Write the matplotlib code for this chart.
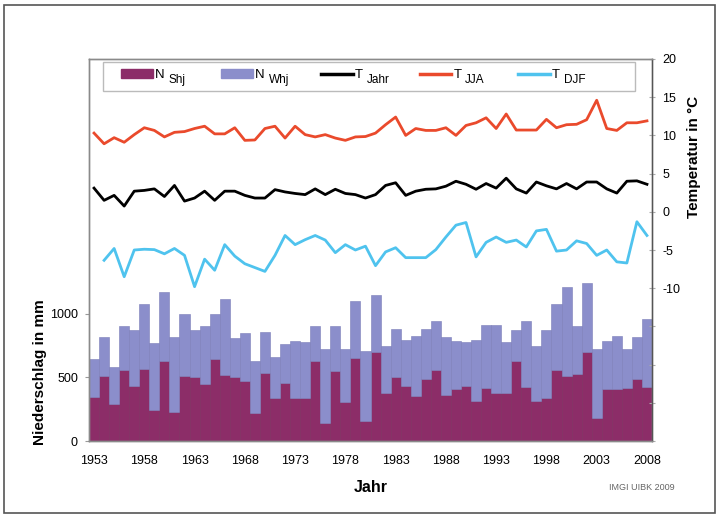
import matplotlib.pyplot as plt
from matplotlib.patches import Patch, Rectangle
from matplotlib.lines import Line2D

plt.rcParams['font.family'] = ['Liberation Sans', 'DejaVu Sans']

years = list(range(1953, 2009))

# Niederschlag Sommerhalbjahr / Winterhalbjahr (mm)
n_shj = [344, 507, 289, 554, 433, 564, 244, 625, 231, 512,
         504, 449, 643, 520, 501, 472, 223, 533, 336, 459,
         336, 336, 630, 139, 546, 310, 651, 157, 698, 381,
         501, 433, 357, 488, 559, 362, 407, 433, 318, 420,
         375, 375, 625, 428, 315, 336, 559, 512, 525, 696,
         178, 409, 409, 420, 488, 428]
n_whj = [299, 307, 291, 351, 441, 515, 525, 543, 585, 488,
         365, 456, 354, 598, 307, 376, 407, 320, 323, 305,
         451, 441, 270, 583, 354, 412, 446, 546, 446, 369,
         381, 357, 465, 391, 386, 452, 375, 344, 477, 488,
         533, 399, 249, 512, 428, 538, 520, 698, 375, 546,
         546, 378, 418, 304, 326, 533]

# Temperatur (°C)
t_jahr = [3.1, 1.5, 2.15, 0.75, 2.7, 2.8, 3.0, 2.0, 3.45, 1.4,
          1.8, 2.7, 1.5, 2.7, 2.7, 2.15, 1.8, 1.8, 2.9, 2.6,
          2.4, 2.25, 3.0, 2.25, 2.95, 2.4, 2.25, 1.8, 2.25, 3.45,
          3.8, 2.15, 2.7, 2.95, 3.0, 3.35, 4.0, 3.6, 2.95, 3.7,
          3.1, 4.4, 3.0, 2.45, 3.9, 3.4, 3.0, 3.7, 3.0, 3.9,
          3.9, 3.0, 2.45, 4.0, 4.05, 3.6]
t_jja = [10.3, 8.9, 9.7, 9.1, 10.1, 11.0, 10.65, 9.8, 10.4, 10.5,
         10.9, 11.2, 10.2, 10.2, 11.0, 9.35, 9.4, 10.9, 11.2, 9.65,
         11.2, 10.1, 9.8, 10.1, 9.65, 9.35, 9.8, 9.85, 10.3, 11.4,
         12.4, 10.0, 10.9, 10.65, 10.65, 11.0, 10.0, 11.3, 11.65, 12.3,
         10.9, 12.8, 10.7, 10.7, 10.7, 12.1, 11.0, 11.4, 11.45, 12.05,
         14.6, 10.9, 10.65, 11.65, 11.65, 11.9]
# DJF first value (1953) not available
t_djf = [None, -6.35, -4.8, -8.5, -5.0, -4.9, -4.95, -5.5, -4.8, -5.7,
         -9.8, -6.2, -7.65, -4.3, -5.8, -6.8, -7.3, -7.8, -5.7, -3.1,
         -4.3, -3.65, -3.1, -3.7, -5.35, -4.3, -5.0, -4.5, -7.05, -5.25,
         -4.7, -6.0, -6.0, -6.0, -4.95, -3.3, -1.75, -1.4, -5.9, -4.0,
         -3.3, -4.0, -3.7, -4.6, -2.5, -2.3, -5.15, -5.0, -3.8, -4.15,
         -5.7, -5.0, -6.55, -6.7, -1.3, -3.1]

xtick_years = list(range(1953, 2009, 5))

leg_main = ['N', 'N', 'T', 'T', 'T']
leg_sub = ['Shj', 'Whj', 'Jahr', 'JJA', 'DJF']

c_shj = '#8c2d68'
c_whj = '#8b8ecb'
c_jja = '#ea4a2c'
c_djf = '#4fc3ee'

fig = plt.figure(figsize=(7.19, 5.16), dpi=100)
ax1 = fig.add_axes([0.1238, 0.1453, 0.7830, 0.7404])
ax2 = ax1.twinx()

ax1.bar(years, n_shj, width=1.0, color=c_shj, edgecolor='#7a2a5c', linewidth=0.4)
ax1.bar(years, n_whj, width=1.0, bottom=n_shj, color=c_whj, edgecolor='#7b7db8', linewidth=0.4)
ax1.set_ylim(0, 3000)
ax1.set_yticks([0, 500, 1000])
ax1.set_xlim(1952.5, 2008.5)
ax1.set_xticks(xtick_years)
ax1.tick_params(axis='y', length=3, color='#999999', labelsize=9, pad=5)
ax1.tick_params(axis='x', length=0, labelsize=9, pad=10)

djf_years = [y for y, v in zip(years, t_djf) if v is not None]
djf_vals = [v for v in t_djf if v is not None]
ax2.plot(years, t_jja, color=c_jja, lw=2.0)
ax2.plot(years, t_jahr, color='black', lw=2.0)
ax2.plot(djf_years, djf_vals, color=c_djf, lw=2.0)
ax2.set_ylim(-30, 20)
ax2.set_yticks(range(-30, 21, 5))
ax2.set_yticklabels(['' if t < -10 else str(t) for t in range(-30, 21, 5)])
ax2.tick_params(axis='y', direction='inout', length=5, color='#aaaaaa', labelsize=9, pad=5)

for ax in (ax1, ax2):
    for s in ax.spines.values():
        s.set_color('#8a8a8a')
        s.set_linewidth(1.0)
ax2.spines['right'].set_color('#555555')

# legend box
ax2.add_patch(Rectangle((0.025, 0.917), 0.945, 0.075, transform=ax2.transAxes,
                        facecolor='white', edgecolor='#bbbbbb', linewidth=1.0, zorder=4))

handles = [Patch(color=c_shj), Patch(color=c_whj),
           Line2D([], [], color='black', lw=2.5),
           Line2D([], [], color=c_jja, lw=2.5),
           Line2D([], [], color=c_djf, lw=2.5)]
leg = ax2.legend(handles, leg_main, ncol=5, loc='center left',
                 bbox_to_anchor=(0.048, 0.958), borderaxespad=0, frameon=False,
                 fontsize=9.5, handlelength=2.4, handleheight=0.6,
                 handletextpad=0.15, columnspacing=4.3)
leg.set_zorder(5)

# subscripts in the legend, nearly as large as the main letter
fig.canvas.draw()
renderer = fig.canvas.get_renderer()
for txt, sub in zip(leg.get_texts(), leg_sub):
    bb = txt.get_window_extent(renderer)
    fig.text((bb.x1 + 4) / fig.bbox.width, (bb.y0 - 2) / fig.bbox.height, sub,
             ha='left', va='baseline', fontsize=8.5, zorder=6)

fig.text(0.056, 0.279, 'Niederschlag in mm', rotation=90, ha='center', va='center',
         fontsize=11, fontweight='bold')
fig.text(0.965, 0.695, 'Temperatur in °C', rotation=90, ha='center', va='center',
         fontsize=11, fontweight='bold')
fig.text(0.515, 0.056, 'Jahr', ha='center', va='center', fontsize=11.5, fontweight='bold')
fig.text(0.893, 0.056, 'IMGI UIBK 2009', ha='center', va='center', fontsize=6.5, color='#666666')

fig.patches.append(Rectangle((0.005, 0.006), 0.99, 0.984, transform=fig.transFigure,
                             fill=False, edgecolor='#555555', linewidth=1.2))

fig.savefig('out.png', dpi=100)
